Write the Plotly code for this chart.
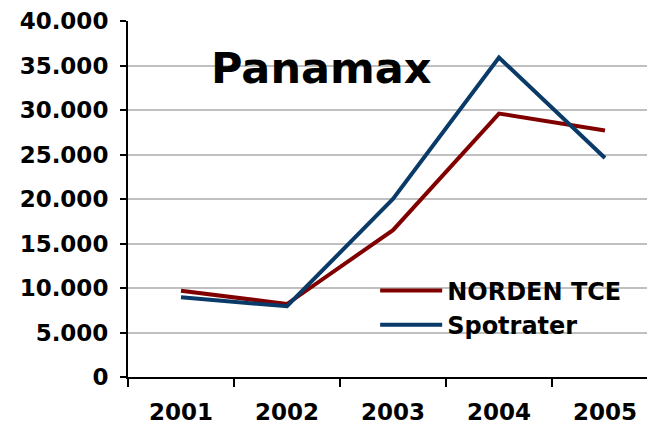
import plotly.graph_objects as go

years = ["2001", "2002", "2003", "2004", "2005"]
norden_tce = [9700, 8200, 16500, 29600, 27700]
spotrater = [8950, 7950, 20000, 35900, 24600]
y_ticks = [0, 5000, 10000, 15000, 20000, 25000, 30000, 35000, 40000]

FONT = "DejaVu Sans"

fig = go.Figure()
fig.add_trace(go.Scatter(x=years, y=norden_tce, mode="lines", name="NORDEN TCE",
                         line=dict(color="#800000", width=4)))
fig.add_trace(go.Scatter(x=years, y=spotrater, mode="lines", name="Spotrater",
                         line=dict(color="#0a3a68", width=4)))

# page body has an 8px margin, so the figure is sized to fill the rest of the window
fig.update_layout(
    width=647, height=416,
    margin=dict(l=120, r=0, t=13, b=47),
    paper_bgcolor="white", plot_bgcolor="white",
    separators=",.",
    font=dict(family=FONT, size=23, color="black", weight="bold"),
    showlegend=True,
    legend=dict(x=0.469, y=0.305, xanchor="left", yanchor="top",
                bgcolor="rgba(0,0,0,0)", itemwidth=62,
                font=dict(family=FONT, size=24, color="black", weight="bold"),
                tracegroupgap=0),
    xaxis=dict(type="category", range=[-0.5, 4.472], tickson="boundaries",
               ticks="outside", ticklen=8, tickwidth=2, tickcolor="black",
               showline=True, linecolor="black", linewidth=2,
               showgrid=False, ticklabelstandoff=13, automargin=False,
               tickfont=dict(family=FONT, size=23, color="black", weight="bold")),
    yaxis=dict(range=[0, 40000], tickvals=y_ticks, tickformat=",d",
               ticks="outside", ticklen=6, tickwidth=2, tickcolor="black",
               showline=True, linecolor="black", linewidth=2,
               showgrid=True, gridcolor="#c0c0c0", gridwidth=1.5,
               zeroline=False, ticklabelstandoff=7, automargin=False,
               tickfont=dict(family=FONT, size=23, color="black", weight="bold")),
    annotations=[dict(text="Panamax", xref="paper", yref="paper",
                      x=0.367, y=0.8666, xanchor="center", yanchor="middle",
                      showarrow=False,
                      font=dict(family=FONT, size=43, color="black", weight="bold"))],
)

fig.write_html("out.html")
